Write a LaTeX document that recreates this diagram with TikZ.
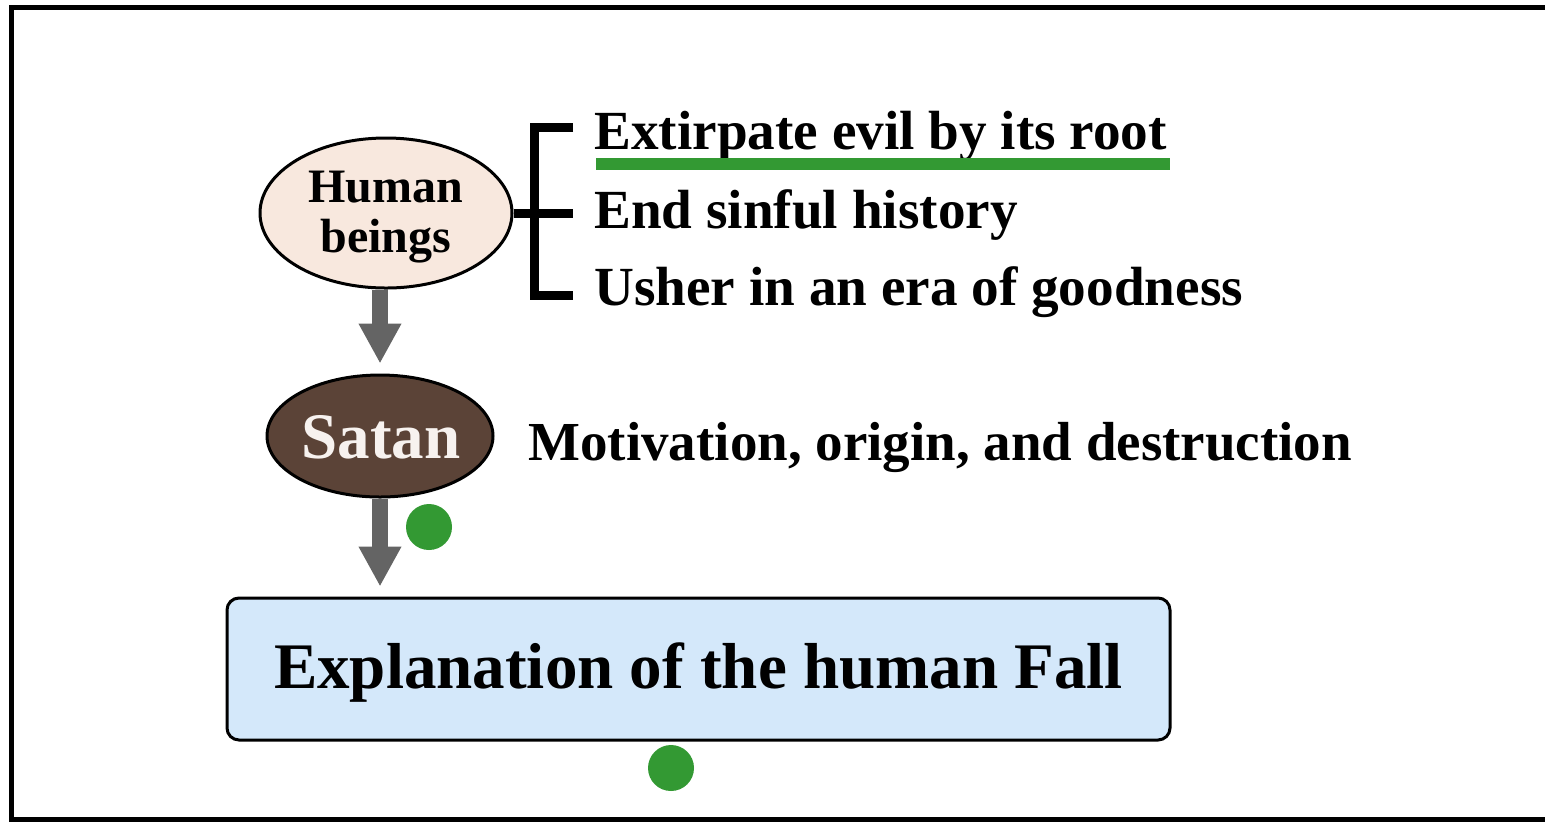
\documentclass[tikz,border=0pt]{standalone}
\usepackage{fontspec}
\setmainfont{Liberation Serif}
\usetikzlibrary{arrows.meta,shapes.geometric}
\definecolor{peach}{HTML}{F8E8DE}
\definecolor{satanbrown}{HTML}{5B4337}
\definecolor{boxblue}{HTML}{D4E8FA}
\definecolor{arrowgray}{HTML}{646464}
\definecolor{dotgreen}{HTML}{339933}
\definecolor{satantext}{HTML}{F7F2EF}
\tikzset{
  oval/.style={ellipse, draw=black, line width=1.5pt, inner sep=0pt, align=center},
  flowarrow/.style={draw=arrowgray, line width=8pt, -{Triangle[width=20pt,length=20pt]}, shorten >=5pt},
  bigtext/.style={anchor=base west, inner sep=0pt, font=\bfseries\fontsize{27.6}{30}\selectfont},
  greendot/.style={circle, fill=dotgreen, minimum size=23pt, inner sep=0pt},
  bracketline/.style={line width=4.5pt},
  ovaltext/.style={anchor=base, inner sep=0pt, font=\bfseries\fontsize{24}{26}\selectfont},
}
\begin{document}
\begin{tikzpicture}[x=0.5pt,y=-0.5pt]
\useasboundingbox (0,0) rectangle (1545,821);
\fill[white] (0,0) rectangle (1545,821);
% frame
\draw[line width=2.5pt] (1570,7.5) -- (11.5,7.5) -- (11.5,819.5) -- (1570,819.5);

% Human beings
\node[oval, fill=peach, minimum width=126pt, minimum height=75pt] (hb) at (386,213) {};
\node[ovaltext] (hbt1) at (386,202) {Human};
\node[ovaltext] (hbt2) at (386,252) {beings};

% Satan
\node[oval, fill=satanbrown, minimum width=113pt, minimum height=61pt] (sat) at (380,436) {};
\node[anchor=base, inner sep=0pt, text=satantext, font=\bfseries\fontsize{32.5}{36}\selectfont] (satt) at (381,458) {Satan};

% Explanation box
\node[draw=black, line width=1.5pt, fill=boxblue, rounded corners=6pt, minimum width=471.5pt, minimum height=71pt, inner sep=0pt] (box) at (698.5,669) {};
\node[anchor=base, inner sep=0pt, font=\bfseries\fontsize{32.5}{36}\selectfont] (boxt) at (698.5,688) {Explanation of the human Fall};

% bracket
\coordinate (btop) at (573,127);
\coordinate (bbot) at (573,295);
\coordinate (bmid) at (573,213);
\draw[bracketline] (btop) -- (534,127) -- (534,295) -- (bbot);
\draw[bracketline] (hb.east) -- (bmid);

% texts
\node[bigtext] (t1) at (594,149) {Extirpate evil by its root};
\node[bigtext] (t2) at (594,228) {End sinful history};
\node[bigtext] (t3) at (594,305) {Usher in an era of goodness};
\node[bigtext, font=\bfseries\fontsize{27.5}{30}\selectfont] (t4) at (528,460) {Motivation, origin, and destruction};

% underline
\coordinate (ul1) at (596,164);
\coordinate (ul2) at (1170,164);
\draw[dotgreen, line width=6pt] (ul1) -- (ul2);

% arrows
\draw[flowarrow] (hb.south -| sat.north) -- (sat.north);
\draw[flowarrow] (sat.south) -- (box.north -| sat.south);

% green dots
\node[greendot] (d1) at (429,527) {};
\node[greendot] (d2) at (671,768) {};
\end{tikzpicture}
\end{document}
